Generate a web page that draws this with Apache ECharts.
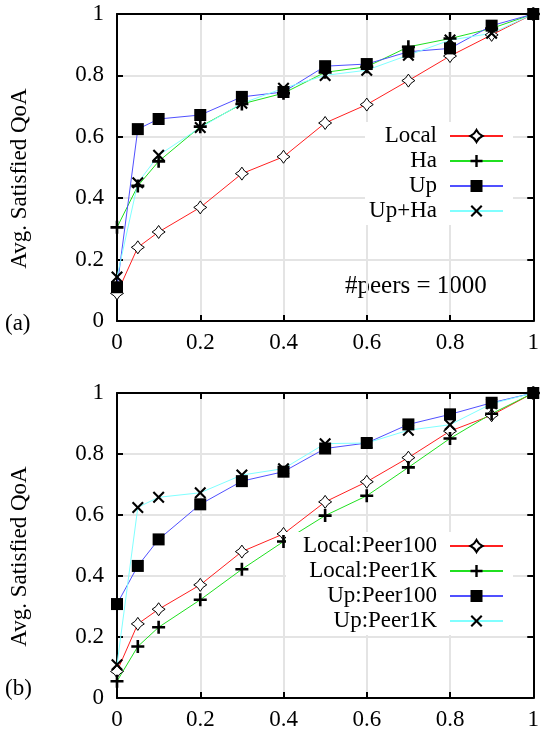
<!DOCTYPE html>
<html>
<head>
<meta charset="utf-8">
<script src="https://cdn.jsdelivr.net/npm/echarts@6/dist/echarts.min.js"></script>
<style>
  html, body { margin: 0; padding: 0; background: #fff; }
  #chart { width: 542px; height: 733px; }
</style>
</head>
<body>
<div id="chart"></div>
<script>
var xs = [0, 0.05, 0.1, 0.2, 0.3, 0.4, 0.5, 0.6, 0.7, 0.8, 0.9, 1];

// (a) #peers = 1000
var namesA = ['Local', 'Ha', 'Up', 'Up+Ha'];
var localA = [0.09, 0.24, 0.29, 0.37, 0.48, 0.535, 0.645, 0.705, 0.783, 0.863, 0.932, 1];
var haA    = [0.305, 0.44, 0.52, 0.633, 0.707, 0.742, 0.81, 0.828, 0.893, 0.92, 0.953, 1];
var upA    = [0.11, 0.625, 0.658, 0.671, 0.73, 0.746, 0.83, 0.837, 0.877, 0.888, 0.962, 1];
var upHaA  = [0.143, 0.45, 0.54, 0.63, 0.709, 0.758, 0.80, 0.817, 0.866, 0.915, 0.937, 1];

// (b)
var namesB = ['Local:Peer100', 'Local:Peer1K', 'Up:Peer100', 'Up:Peer1K'];
var local100B = [0.087, 0.243, 0.291, 0.371, 0.48, 0.538, 0.643, 0.709, 0.788, 0.875, 0.927, 1];
var local1kB  = [0.055, 0.169, 0.232, 0.322, 0.422, 0.513, 0.598, 0.663, 0.756, 0.851, 0.932, 1];
var up100B    = [0.308, 0.433, 0.52, 0.635, 0.711, 0.742, 0.818, 0.836, 0.897, 0.93, 0.968, 1];
var up1kB     = [0.109, 0.625, 0.658, 0.673, 0.731, 0.752, 0.834, 0.836, 0.878, 0.896, 0.965, 1];

var FONT = "'Times New Roman', 'Liberation Serif', serif";
var colors = ['#ff2020', '#20e020', '#5050ff', '#80ffff'];

// gnuplot-like point types
var symDiamond = 'path://M0,-10 Q3.2,-3.2 10,0 Q3.2,3.2 0,10 Q-3.2,3.2 -10,0 Q-3.2,-3.2 0,-10 Z';
var symPlus = 'path://M-1.2,-6 H1.2 V-1.2 H6 V1.2 H1.2 V6 H-1.2 V1.2 H-6 V-1.2 H-1.2 Z';
var symCross = 'path://M-6,-4.5 L-4.5,-6 L0,-1.5 L4.5,-6 L6,-4.5 L1.5,0 L6,4.5 L4.5,6 L0,1.5 L-4.5,6 L-6,4.5 L-1.5,0 Z';
var symbols = [
  {symbol: symDiamond, size: 13, itemStyle: {color: '#fff', borderColor: '#000', borderWidth: 1}},
  {symbol: symPlus, size: 13, itemStyle: {color: '#000'}},
  {symbol: 'rect', size: 12, itemStyle: {color: '#000'}},
  {symbol: symCross, size: 12, itemStyle: {color: '#000'}}
];

function pairs(vals) {
  return xs.map(function (x, i) { return [x, vals[i]]; });
}

function makeSeries(name, vals, k, axisIdx) {
  return {
    name: name,
    type: 'line',
    xAxisIndex: axisIdx,
    yAxisIndex: axisIdx,
    data: pairs(vals),
    symbol: symbols[k].symbol,
    symbolSize: symbols[k].size,
    itemStyle: symbols[k].itemStyle,
    lineStyle: {color: colors[k], width: 1},
    animation: false,
    clip: false
  };
}

var labelStyle = {fontFamily: FONT, fontSize: 23, color: '#000'};

function xAxes(gridIdx) {
  return [{
    type: 'value', gridIndex: gridIdx, min: 0, max: 1, interval: 0.2, position: 'bottom',
    axisLine: {show: true, lineStyle: {color: '#000', width: 2}},
    axisTick: {show: true, inside: true, length: 6, lineStyle: {color: '#000', width: 2}},
    axisLabel: Object.assign({margin: 10}, labelStyle),
    splitLine: {show: true, showMinLine: false, showMaxLine: false, lineStyle: {color: '#e4e4e4', width: 2}}
  }, {
    type: 'value', gridIndex: gridIdx, min: 0, max: 1, interval: 0.2, position: 'top',
    axisLine: {show: true, onZero: false, lineStyle: {color: '#000', width: 2}},
    axisTick: {show: true, inside: true, length: 6, lineStyle: {color: '#000', width: 2}},
    axisLabel: {show: false},
    splitLine: {show: false}
  }];
}

function yAxes(gridIdx) {
  return [{
    type: 'value', gridIndex: gridIdx, min: 0, max: 1, interval: 0.2, position: 'left',
    name: 'Avg. Satisfied QoA', nameLocation: 'middle', nameRotate: 90, nameGap: 86,
    nameTextStyle: Object.assign({padding: [0, 22, 0, 0]}, labelStyle),
    axisLine: {show: true, lineStyle: {color: '#000', width: 2}},
    axisTick: {show: true, inside: true, length: 6, lineStyle: {color: '#000', width: 2}},
    axisLabel: Object.assign({margin: 13}, labelStyle),
    splitLine: {show: true, showMinLine: false, showMaxLine: false, lineStyle: {color: '#e4e4e4', width: 2}}
  }, {
    type: 'value', gridIndex: gridIdx, min: 0, max: 1, interval: 0.2, position: 'right',
    axisLine: {show: true, onZero: false, lineStyle: {color: '#000', width: 2}},
    axisTick: {show: true, inside: true, length: 6, lineStyle: {color: '#000', width: 2}},
    axisLabel: {show: false},
    splitLine: {show: false}
  }];
}

function legendFor(names, top, textW, padLeft) {
  return {
    data: names,
    orient: 'vertical',
    align: 'right',
    right: 29,
    top: top,
    itemWidth: 53,
    itemHeight: 15,
    itemGap: 1,
    padding: [2, 9, 2, padLeft],
    backgroundColor: '#fff',
    selectedMode: false,
    textStyle: {fontFamily: FONT, fontSize: 23, color: '#000', width: textW, lineHeight: 24,
      padding: [0, 8, 0, 0], align: 'right'}
  };
}

var seriesA = [localA, haA, upA, upHaA];
var seriesB = [local100B, local1kB, up100B, up1kB];
var series = [];
namesA.forEach(function (n, k) { series.push(makeSeries(n, seriesA[k], k, 0)); });
namesB.forEach(function (n, k) { series.push(makeSeries(n, seriesB[k], k, 2)); });

var chart = echarts.init(document.getElementById('chart'), null, {renderer: 'canvas'});
chart.setOption({
  backgroundColor: '#fff',
  animation: false,
  grid: [
    {left: 113, right: 6, top: 14, height: 307},
    {left: 113, right: 6, top: 393, height: 305}
  ],
  xAxis: xAxes(0).concat(xAxes(1)),
  yAxis: yAxes(0).concat(yAxes(1)),
  legend: [
    legendFor(namesA, 122, 70, 2),
    legendFor(namesB, 532, 137, 14)
  ],
  graphic: [
    {type: 'text', left: 345, top: 274, style: {text: '#peers = 1000', fontFamily: FONT, fontSize: 25, fill: '#000'}},
    {type: 'text', left: 5, top: 312, style: {text: '(a)', fontFamily: FONT, fontSize: 23, fill: '#000'}},
    {type: 'text', left: 5, top: 677, style: {text: '(b)', fontFamily: FONT, fontSize: 23, fill: '#000'}}
  ],
  series: series
});
</script>
</body>
</html>
